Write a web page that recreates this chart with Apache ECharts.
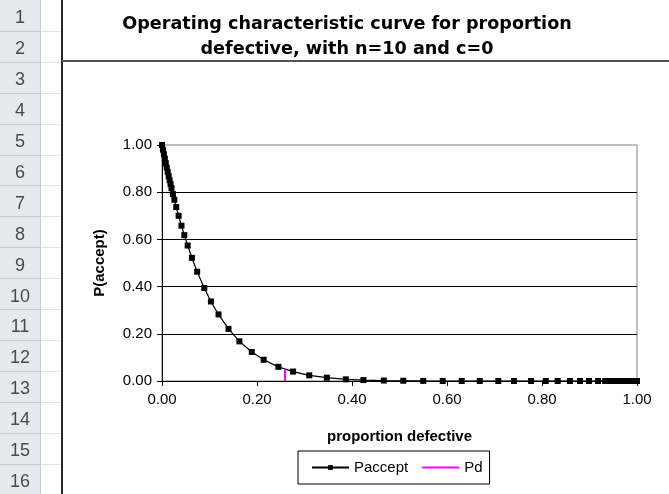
<!DOCTYPE html>
<html><head><meta charset="utf-8">
<script src="https://cdn.jsdelivr.net/npm/echarts@6/dist/echarts.min.js"></script>
<style>html,body{margin:0;padding:0;background:#fff}#c{width:669px;height:494px}</style>
</head><body><div id="c"></div>
<script>
// ---- data ----
const rowLabels = ['1','2','3','4','5','6','7','8','9','10','11','12','13','14','15','16'];
const titleLines = ['Operating characteristic curve for proportion', 'defective, with n=10 and c=0'];
const xTicks = [0, 0.2, 0.4, 0.6, 0.8, 1.0];
const yTicks = [0, 0.2, 0.4, 0.6, 0.8, 1.0];
const proportionDefective = [0, 0.002, 0.004, 0.006, 0.008, 0.010, 0.012, 0.014, 0.016, 0.018, 0.020,
  0.023, 0.026, 0.030, 0.035, 0.041, 0.047, 0.054, 0.063, 0.074, 0.089, 0.103, 0.119, 0.140, 0.163,
  0.189, 0.214, 0.245, 0.276, 0.310, 0.347, 0.387, 0.424, 0.467, 0.508, 0.550, 0.591, 0.631, 0.669,
  0.708, 0.741, 0.777, 0.808, 0.833, 0.859, 0.880, 0.899, 0.918, 0.933, 0.945, 0.955, 0.964, 0.971,
  0.977, 0.982, 0.986, 0.990, 0.993, 0.996, 0.998, 1.000];
const pAccept = [1.000, 0.980, 0.961, 0.942, 0.923, 0.904, 0.886, 0.868, 0.851, 0.834, 0.817,
  0.792, 0.768, 0.737, 0.700, 0.658, 0.618, 0.574, 0.522, 0.463, 0.394, 0.337, 0.282, 0.221, 0.168,
  0.123, 0.090, 0.060, 0.040, 0.024, 0.014, 0.007, 0.004, 0.002, 0.001, 0.0003, 0.0001, 0, 0,
  0, 0, 0, 0, 0, 0, 0, 0, 0, 0, 0, 0, 0, 0,
  0, 0, 0, 0, 0, 0, 0, 0];
const pdX = [0.259, 0.259];
const pdY = [0, 0.05];
const seriesNames = ['Paccept', 'Pd'];

// ---- build ----
const FONT = '"Liberation Sans", Arial, sans-serif';
const chart = echarts.init(document.getElementById('c'), null, {renderer: 'canvas'});
const rowH = 30.9;
const graphics = [];
graphics.push({type: 'rect', shape: {x: 0, y: 0, width: 40, height: 494}, style: {fill: '#e6e9ee'}, silent: true, z: -10});
graphics.push({type: 'line', shape: {x1: 40.5, y1: 0, x2: 40.5, y2: 494}, style: {stroke: '#c6ccd6', lineWidth: 1}, z: -9});
rowLabels.forEach((lab, i) => {
  const yb = Math.round(rowH * (i + 1)) + 0.5;
  graphics.push({type: 'line', shape: {x1: 0, y1: yb, x2: 40, y2: yb}, style: {stroke: '#c6ccd6', lineWidth: 1}, z: -9});
  graphics.push({type: 'line', shape: {x1: 41, y1: yb, x2: 61, y2: yb}, style: {stroke: '#e4e4e4', lineWidth: 1}, z: -9});
  graphics.push({type: 'text', x: 20, y: rowH * (i + 0.5) + 3, style: {text: lab, fill: '#4a4a4a', font: '18px ' + FONT, textAlign: 'center', textVerticalAlign: 'middle'}, z: -8});
});
graphics.push({type: 'line', shape: {x1: 62, y1: 0, x2: 62, y2: 494}, style: {stroke: '#2a2a2a', lineWidth: 2}, z: -5});
graphics.push({type: 'line', shape: {x1: 62, y1: 61, x2: 669, y2: 61}, style: {stroke: '#555555', lineWidth: 2}, z: -5});

const option = {
  backgroundColor: '#ffffff',
  animation: false,
  title: {
    text: titleLines.join('\n'),
    left: 342, top: 7, textAlign: 'center',
    textStyle: {fontFamily: '"DejaVu Sans", Verdana, sans-serif', fontWeight: 'bold', fontSize: 17.6, color: '#000', lineHeight: 25}
  },
  graphic: graphics,
  legend: {
    data: [{name: seriesNames[0]}, {name: seriesNames[1], itemStyle: {opacity: 0}}],
    left: 298, top: 451,
    orient: 'horizontal',
    padding: [9, 7, 9, 13],
    itemGap: 13,
    itemWidth: 37, itemHeight: 6,
    borderColor: '#000', borderWidth: 1,
    textStyle: {fontFamily: FONT, fontSize: 15, color: '#000'}
  },
  grid: {left: 162, right: 32, top: 145, bottom: 113, show: true, borderColor: '#808080', borderWidth: 1, backgroundColor: 'transparent'},
  xAxis: {
    type: 'value', min: xTicks[0], max: xTicks[xTicks.length - 1], interval: xTicks[1] - xTicks[0],
    name: 'proportion defective', nameLocation: 'middle', nameGap: 48,
    nameTextStyle: {fontFamily: FONT, fontSize: 15, fontWeight: 'bold', color: '#000'},
    axisLine: {show: true, lineStyle: {color: '#000', width: 1}},
    axisTick: {show: true, length: 5, lineStyle: {color: '#000'}},
    axisLabel: {fontFamily: FONT, fontSize: 15, color: '#000', margin: 11, formatter: v => v.toFixed(2)},
    splitLine: {show: false}
  },
  yAxis: {
    type: 'value', min: yTicks[0], max: yTicks[yTicks.length - 1], interval: yTicks[1] - yTicks[0],
    name: 'P(accept)', nameLocation: 'middle', nameGap: 55,
    nameTextStyle: {fontFamily: FONT, fontSize: 15, fontWeight: 'bold', color: '#000'},
    axisLine: {show: true, lineStyle: {color: '#000', width: 1}},
    axisTick: {show: true, length: 5, lineStyle: {color: '#000'}},
    axisLabel: {fontFamily: FONT, fontSize: 15, color: '#000', margin: 10, formatter: v => v.toFixed(2)},
    splitLine: {show: true, showMaxLine: false, lineStyle: {color: '#000', width: 1}}
  },
  series: [
    {
      name: seriesNames[0], type: 'line',
      data: proportionDefective.map((p, i) => [p, pAccept[i]]),
      symbol: 'rect', symbolSize: 6, showSymbol: true,
      itemStyle: {color: '#000'},
      lineStyle: {color: '#000', width: 1.2},
      z: 3
    },
    {
      name: seriesNames[1], type: 'line',
      data: pdX.map((p, i) => [p, pdY[i]]),
      symbol: 'none',
      itemStyle: {color: '#ff00ff'},
      lineStyle: {color: '#ff00ff', width: 2},
      z: 4
    }
  ]
};
chart.setOption(option);
</script>
</body></html>
